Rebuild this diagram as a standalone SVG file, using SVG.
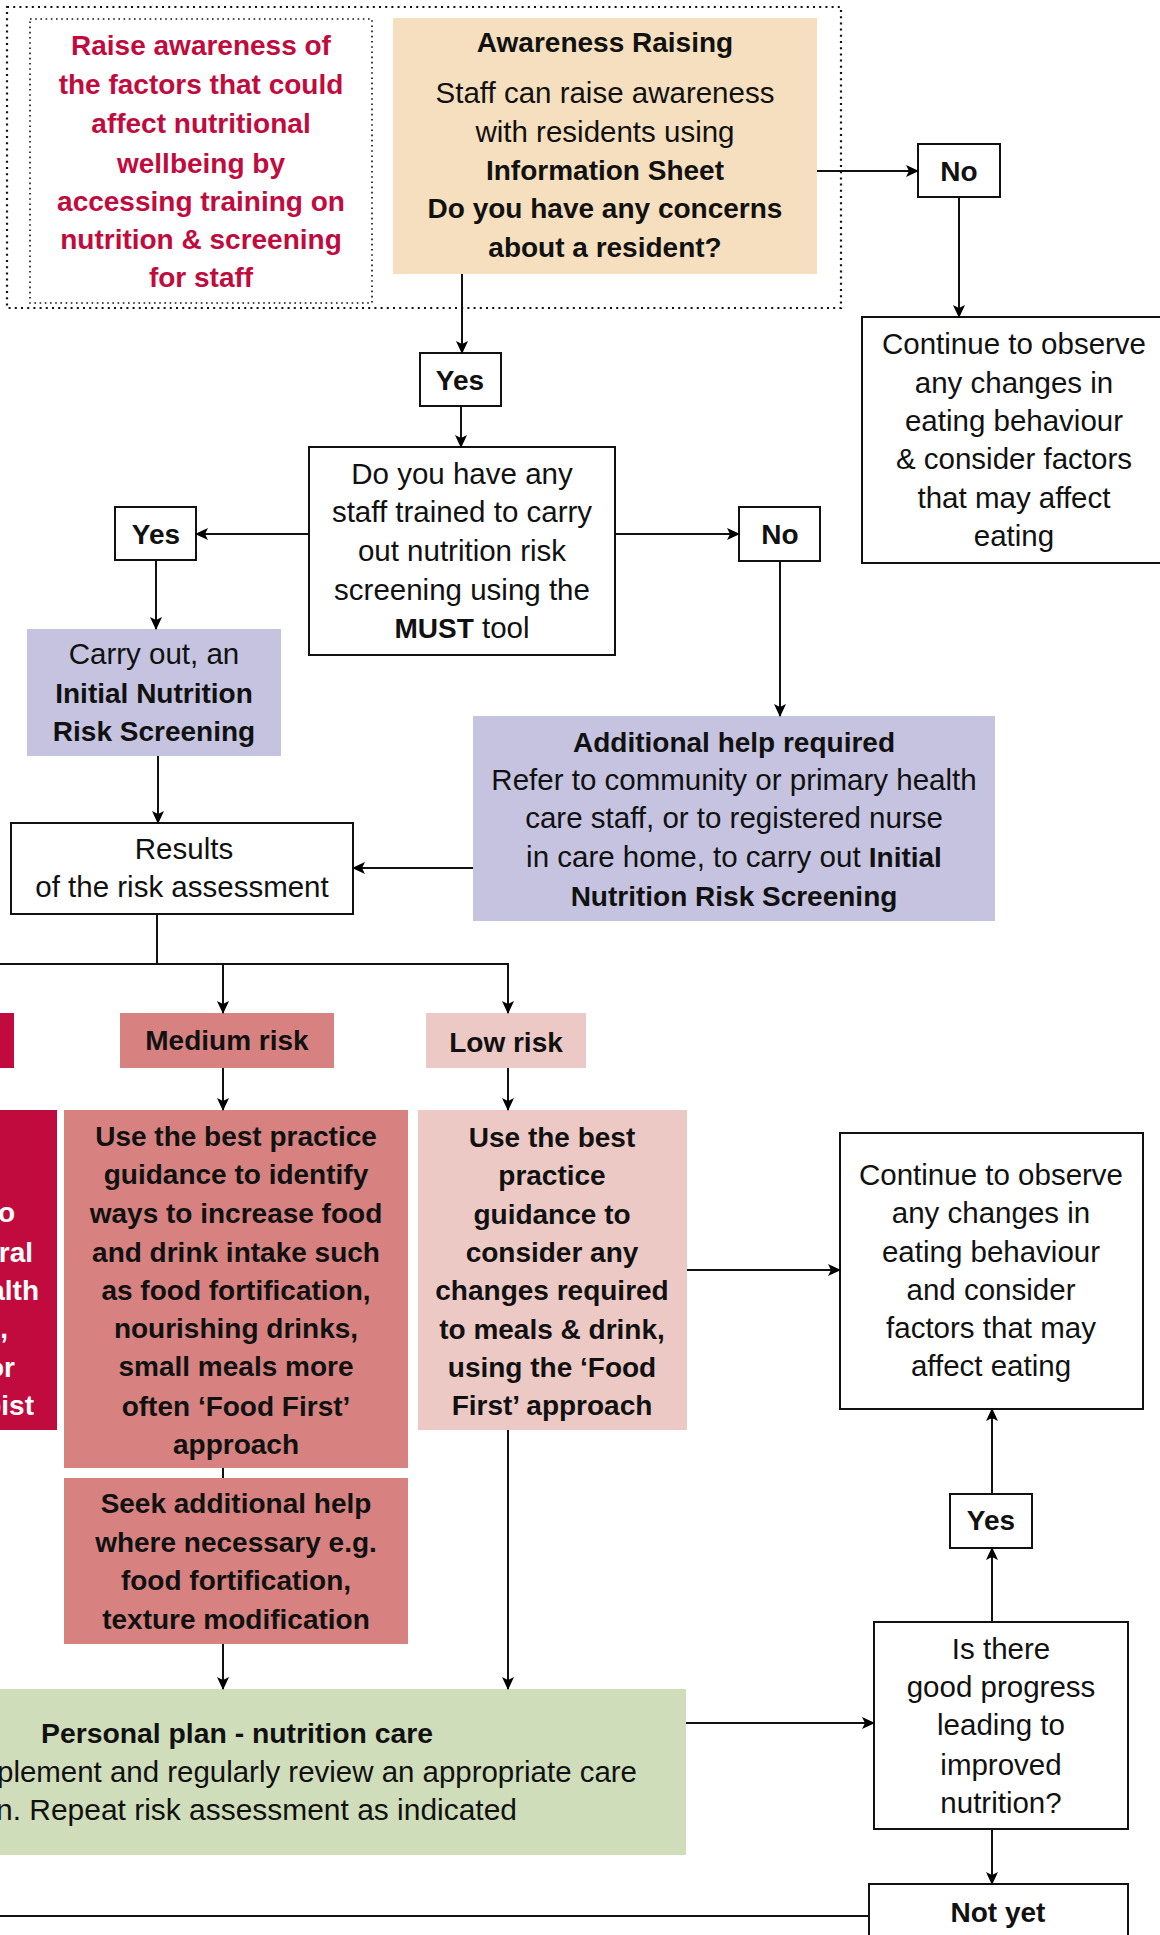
<svg xmlns="http://www.w3.org/2000/svg" width="1160" height="1935" viewBox="0 0 1160 1935">
<defs>
<marker id="arr" markerUnits="userSpaceOnUse" markerWidth="14" markerHeight="12" refX="12" refY="6" orient="auto">
<path d="M0,0 L13,6 L0,12 L3,6 z" fill="#000"/>
</marker>
<style>
text{font-family:"Liberation Sans",Arial,sans-serif;text-anchor:middle;fill:#111;}
.r{font-size:29.5px;font-weight:normal;}
.b{font-size:28px;font-weight:bold;}
.red{fill:#C10A3D;}
.w{fill:#fff;}
.box{fill:#fff;stroke:#111;stroke-width:2;}
.con{fill:none;stroke:#111;stroke-width:2;}
.ar{marker-end:url(#arr);}
</style>
</defs>
<rect width="1160" height="1935" fill="#fff"/>

<g id="outer-frame">
<rect x="7" y="7" width="834" height="301" fill="none" stroke="#111" stroke-width="2.2" stroke-dasharray="2 4.2"/>
</g>

<g id="raise-awareness">
<rect x="30" y="19" width="342" height="284" fill="none" stroke="#111" stroke-width="1.6" stroke-dasharray="1.6 3.6"/>
<text class="b red" x="201" y="55">Raise awareness of</text>
<text class="b red" x="201" y="94">the factors that could</text>
<text class="b red" x="201" y="133">affect nutritional</text>
<text class="b red" x="201" y="173">wellbeing by</text>
<text class="b red" x="201" y="211">accessing training on</text>
<text class="b red" x="201" y="249">nutrition &amp; screening</text>
<text class="b red" x="201" y="287">for staff</text>
</g>

<g id="awareness-raising">
<rect x="393" y="18" width="424" height="256" fill="#F6DFBE"/>
<text class="b" x="605" y="52">Awareness Raising</text>
<text class="r" x="605" y="103">Staff can raise awareness</text>
<text class="r" x="605" y="142">with residents using</text>
<text class="b" x="605" y="180">Information Sheet</text>
<text class="b" x="605" y="218">Do you have any concerns</text>
<text class="b" x="605" y="257">about a resident?</text>
</g>

<g id="no-top">
<rect class="box" x="918" y="144" width="82" height="53"/>
<text class="b" x="959" y="181">No</text>
</g>

<g id="continue-observe-1">
<rect class="box" x="862" y="317" width="310" height="246"/>
<text class="r" x="1014" y="354">Continue to observe</text>
<text class="r" x="1014" y="393">any changes in</text>
<text class="r" x="1014" y="431">eating behaviour</text>
<text class="r" x="1014" y="469">&amp; consider factors</text>
<text class="r" x="1014" y="508">that may affect</text>
<text class="r" x="1014" y="546">eating</text>
</g>

<g id="yes-top">
<rect class="box" x="420" y="353" width="81" height="53"/>
<text class="b" x="460" y="390">Yes</text>
</g>

<g id="staff-trained">
<rect class="box" x="309" y="447" width="306" height="208" stroke-width="2.6"/>
<text class="r" x="462" y="484">Do you have any</text>
<text class="r" x="462" y="522">staff trained to carry</text>
<text class="r" x="462" y="561">out nutrition risk</text>
<text class="r" x="462" y="600">screening using the</text>
<text class="r" x="462" y="638"><tspan font-weight="bold" font-size="28">MUST</tspan> tool</text>
</g>

<g id="yes-left">
<rect class="box" x="115" y="507" width="81" height="53"/>
<text class="b" x="156" y="544">Yes</text>
</g>

<g id="no-middle">
<rect class="box" x="739" y="507" width="81" height="54"/>
<text class="b" x="780" y="544">No</text>
</g>

<g id="carry-out-screening">
<rect x="27" y="629" width="254" height="127" fill="#C5C3DF"/>
<text class="r" x="154" y="664">Carry out, an</text>
<text class="b" x="154" y="703">Initial Nutrition</text>
<text class="b" x="154" y="741">Risk Screening</text>
</g>

<g id="additional-help">
<rect x="473" y="716" width="522" height="205" fill="#C5C3DF"/>
<text class="b" x="734" y="752">Additional help required</text>
<text class="r" x="734" y="790">Refer to community or primary health</text>
<text class="r" x="734" y="828">care staff, or to registered nurse</text>
<text class="r" x="734" y="867">in care home, to carry out <tspan font-weight="bold" font-size="28">Initial</tspan></text>
<text class="b" x="734" y="906">Nutrition Risk Screening</text>
</g>

<g id="results">
<rect class="box" x="11" y="823" width="342" height="91"/>
<text class="r" x="184" y="859">Results</text>
<text class="r" x="182" y="897">of the risk assessment</text>
</g>

<g id="high-risk">
<rect x="0" y="1013" width="14" height="55" fill="#C10A3D"/>
</g>

<g id="high-risk-action">
<rect x="0" y="1110" width="57" height="320" fill="#C10A3D"/>
<text class="b w" style="text-anchor:end" x="15" y="1222">o</text>
<text class="b w" style="text-anchor:end" x="33" y="1262">ral</text>
<text class="b w" style="text-anchor:end" x="39" y="1300">alth</text>
<text class="b w" style="text-anchor:end" x="8" y="1338">l,</text>
<text class="b w" style="text-anchor:end" x="15" y="1377">or</text>
<text class="b w" style="text-anchor:end" x="34" y="1415">pist</text>
</g>

<g id="medium-risk">
<rect x="120" y="1013" width="214" height="55" fill="#D78280"/>
<text class="b" x="227" y="1050">Medium risk</text>
</g>

<g id="medium-action">
<rect x="64" y="1110" width="344" height="358" fill="#D78280"/>
<text class="b" x="236" y="1146">Use the best practice</text>
<text class="b" x="236" y="1184">guidance to identify</text>
<text class="b" x="236" y="1223">ways to increase food</text>
<text class="b" x="236" y="1262">and drink intake such</text>
<text class="b" x="236" y="1300">as food fortification,</text>
<text class="b" x="236" y="1338">nourishing drinks,</text>
<text class="b" x="236" y="1376">small meals more</text>
<text class="b" x="236" y="1416">often ‘Food First’</text>
<text class="b" x="236" y="1454">approach</text>
</g>

<g id="seek-help">
<rect x="64" y="1478" width="344" height="166" fill="#D78280"/>
<text class="b" x="236" y="1513">Seek additional help</text>
<text class="b" x="236" y="1552">where necessary e.g.</text>
<text class="b" x="236" y="1590">food fortification,</text>
<text class="b" x="236" y="1629">texture modification</text>
</g>

<g id="low-risk">
<rect x="426" y="1013" width="160" height="55" fill="#EDC9C6"/>
<text class="b" x="506" y="1052">Low risk</text>
</g>

<g id="low-action">
<rect x="418" y="1110" width="269" height="320" fill="#EDC9C6"/>
<text class="b" x="552" y="1147">Use the best</text>
<text class="b" x="552" y="1185">practice</text>
<text class="b" x="552" y="1224">guidance to</text>
<text class="b" x="552" y="1262">consider any</text>
<text class="b" x="552" y="1300">changes required</text>
<text class="b" x="552" y="1339">to meals &amp; drink,</text>
<text class="b" x="552" y="1377">using the ‘Food</text>
<text class="b" x="552" y="1415">First’ approach</text>
</g>

<g id="continue-observe-2">
<rect class="box" x="840" y="1133" width="303" height="276"/>
<text class="r" x="991" y="1185">Continue to observe</text>
<text class="r" x="991" y="1223">any changes in</text>
<text class="r" x="991" y="1262">eating behaviour</text>
<text class="r" x="991" y="1300">and consider</text>
<text class="r" x="991" y="1338">factors that may</text>
<text class="r" x="991" y="1376">affect eating</text>
</g>

<g id="yes-bottom">
<rect class="box" x="950" y="1494" width="82" height="54"/>
<text class="b" x="991" y="1530">Yes</text>
</g>

<g id="good-progress">
<rect class="box" x="874" y="1622" width="254" height="207"/>
<text class="r" x="1001" y="1659">Is there</text>
<text class="r" x="1001" y="1697">good progress</text>
<text class="r" x="1001" y="1735">leading to</text>
<text class="r" x="1001" y="1775">improved</text>
<text class="r" x="1001" y="1813">nutrition?</text>
</g>

<g id="personal-plan">
<rect x="0" y="1689" width="686" height="166" fill="#D0DDBB"/>
<text class="b" style="text-anchor:start" x="41" y="1743" font-size="29" textLength="392" lengthAdjust="spacingAndGlyphs">Personal plan - nutrition care</text>
<text class="r" style="text-anchor:start" x="-3" y="1782" textLength="640" lengthAdjust="spacingAndGlyphs">plement and regularly review an appropriate care</text>
<text class="r" style="text-anchor:start" x="-4" y="1820" textLength="521" lengthAdjust="spacingAndGlyphs">n. Repeat risk assessment as indicated</text>
</g>

<g id="not-yet">
<rect class="box" x="869" y="1884" width="259" height="70"/>
<text class="b" x="998" y="1922">Not yet</text>
</g>

<g id="connectors">
<path class="con ar" d="M817,171 H918"/>
<path class="con ar" d="M959,197 V317"/>
<path class="con ar" d="M462,274 V353"/>
<path class="con ar" d="M461,406 V447"/>
<path class="con ar" d="M309,534 H196"/>
<path class="con ar" d="M615,534 H739"/>
<path class="con ar" d="M780,561 V716"/>
<path class="con ar" d="M473,868 H353"/>
<path class="con ar" d="M156,560 V629"/>
<path class="con ar" d="M158,756 V823"/>
<path class="con" d="M157,914 V964"/>
<path class="con ar" d="M0,964 H508 V1013"/>
<path class="con ar" d="M223,964 V1013"/>
<path class="con ar" d="M223,1068 V1110"/>
<path class="con" d="M223,1468 V1478"/>
<path class="con ar" d="M223,1644 V1689"/>
<path class="con ar" d="M508,1068 V1110"/>
<path class="con ar" d="M508,1430 V1689"/>
<path class="con ar" d="M687,1270 H840"/>
<path class="con ar" d="M686,1723 H874"/>
<path class="con ar" d="M992,1622 V1548"/>
<path class="con ar" d="M992,1494 V1409"/>
<path class="con ar" d="M992,1829 V1884"/>
<path class="con" d="M869,1916 H0"/>
</g>
</svg>
